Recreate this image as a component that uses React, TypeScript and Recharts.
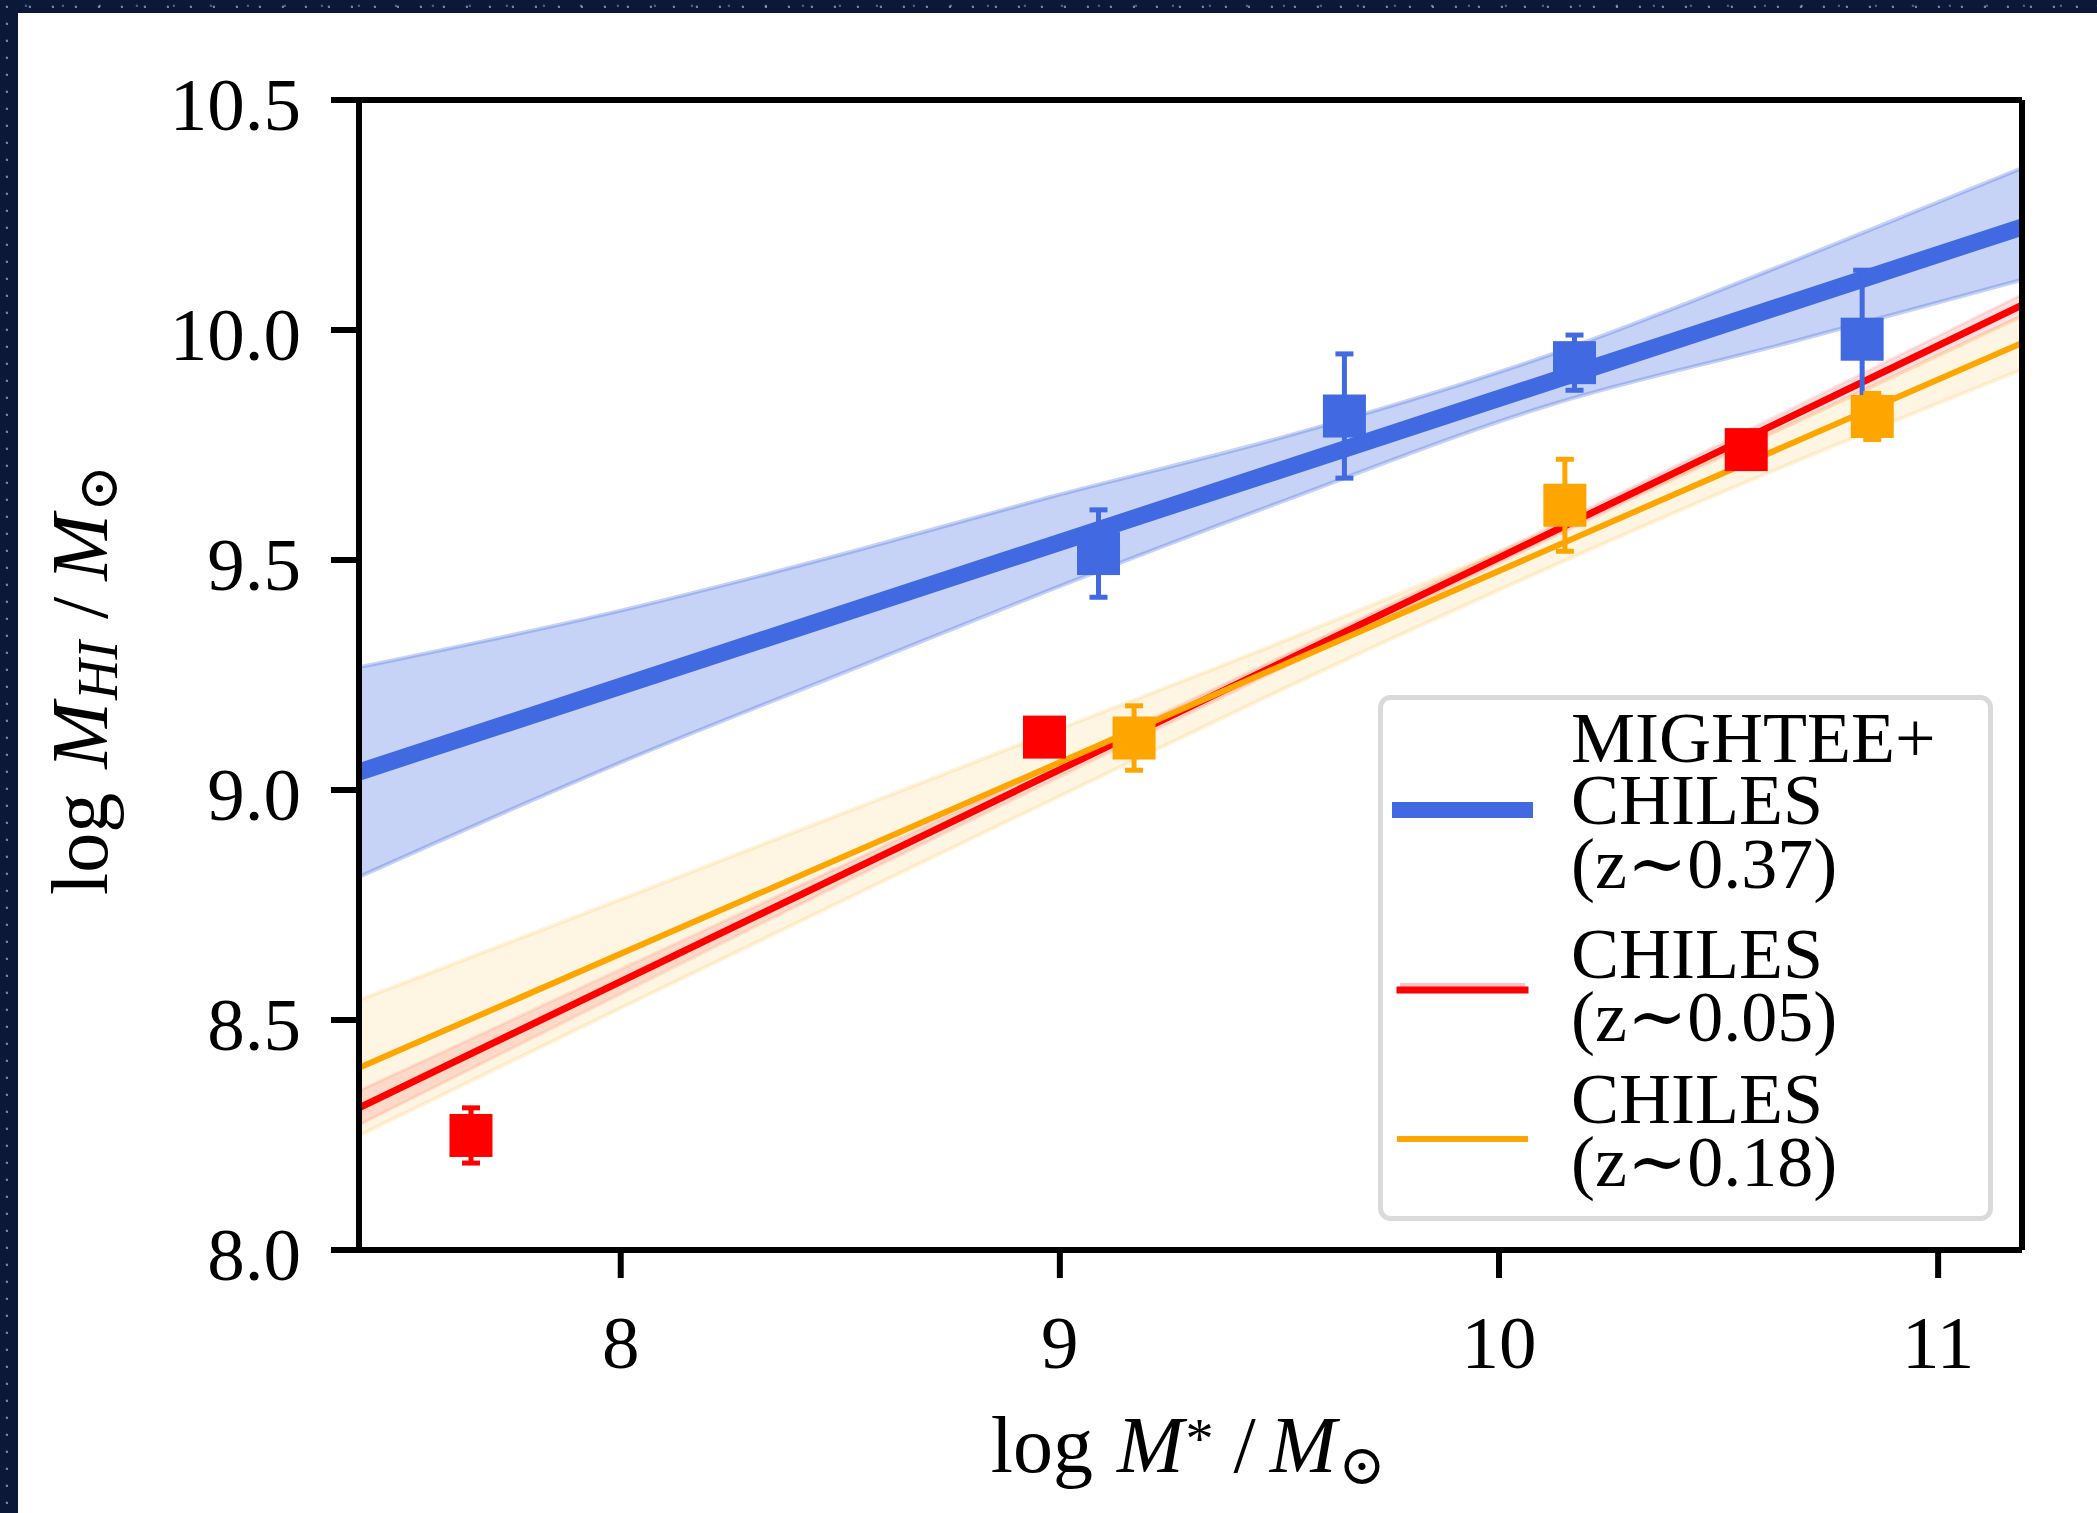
import React from 'react';
import { ComposedChart, Line, Area, Scatter, XAxis, YAxis, ErrorBar, Legend, Label, ReferenceLine } from 'recharts';

// ---- axes ----
const X_DOMAIN = [7.404, 11.191];
const Y_DOMAIN = [8, 10.5];
const X_TICKS = [8, 9, 10, 11];
const Y_TICKS = [8.0, 8.5, 9.0, 9.5, 10.0, 10.5];

// ---- MIGHTEE+CHILES (z~0.37) ----
const blueFitX = [7.404, 11.191];
const blueFitY = [9.039, 10.224];
const blueBandX = [7.404, 8.0, 8.534, 8.978, 9.5, 10.116, 10.67, 11.191];
const blueBandLo = [8.811, 9.06, 9.265, 9.435, 9.625, 9.837, 9.975, 10.109];
const blueBandHi = [9.267, 9.39, 9.52, 9.637, 9.765, 9.946, 10.15, 10.352];
const blueX = [9.088, 9.648, 10.172, 10.827];
const blueY = [9.514, 9.813, 9.929, 9.98];
const blueErr = [0.095, 0.135, 0.06, 0.15];

// ---- CHILES (z~0.05) ----
const redFitX = [7.404, 11.191];
const redFitY = [8.309, 10.054];
const redBandX = [7.404, 8.5, 9.5, 10.3, 11.191];
const redBandLo = [8.272, 8.795, 9.262, 9.631, 10.031];
const redBandHi = [8.346, 8.833, 9.288, 9.657, 10.077];
const redX = [7.659, 8.965, 10.563];
const redY = [8.249, 9.115, 9.74];
const redErr = [0.06, 0.03, 0.03];

// ---- CHILES (z~0.18) ----
const orangeFitX = [7.404, 11.191];
const orangeFitY = [8.396, 9.972];
const orangeBandX = [7.404, 8.0, 8.5, 9.0, 9.5, 10.0, 10.5, 11.191];
const orangeBandLo = [8.249, 8.526, 8.757, 8.987, 9.216, 9.435, 9.644, 9.914];
const orangeBandHi = [8.543, 8.762, 8.947, 9.133, 9.32, 9.517, 9.724, 10.03];
const orangeX = [9.169, 10.15, 10.85];
const orangeY = [9.113, 9.619, 9.812];
const orangeErr = [0.07, 0.1, 0.05];

// ---- legend ----
const legendLabels = [
  ['MIGHTEE+', 'CHILES', '(z\u223C0.37)'],
  ['CHILES', '(z\u223C0.05)'],
  ['CHILES', '(z\u223C0.18)'],
];

const BLUE = '#4169E1';
const RED = '#FF0000';
const ORANGE = '#FFA500';
const FONT = '"Liberation Serif", "DejaVu Serif", serif';
const AXIS_W = 6;

const fit = (xs: number[], ys: number[]) => xs.map((x, i) => ({ x, y: ys[i] }));
const band = (xs: number[], lo: number[], hi: number[]) => xs.map((x, i) => ({ x, band: [lo[i], hi[i]] }));
const pts = (xs: number[], ys: number[], es: number[]) => xs.map((x, i) => ({ x, y: ys[i], err: es[i] }));

const blueFit = fit(blueFitX, blueFitY);
const redFit = fit(redFitX, redFitY);
const orangeFit = fit(orangeFitX, orangeFitY);
const blueBand = band(blueBandX, blueBandLo, blueBandHi);
const redBand = band(redBandX, redBandLo, redBandHi);
const orangeBand = band(orangeBandX, orangeBandLo, orangeBandHi);
const bluePts = pts(blueX, blueY, blueErr);
const redPts = pts(redX, redY, redErr);
const orangePts = pts(orangeX, orangeY, orangeErr);

const square = (color: string) => (props: any) => {
  const { cx, cy } = props;
  if (cx == null || cy == null) return <g />;
  return <rect x={cx - 21.5} y={cy - 21.5} width={43} height={43} fill={color} />;
};

const YTick = (props: any) => {
  const { x, y, payload } = props;
  return (
    <text x={x} y={y} dy={30} textAnchor="end" fontFamily={FONT} fontSize={75} fill="#000">
      {Number(payload.value).toFixed(1)}
    </text>
  );
};

const XTick = (props: any) => {
  const { x, y, payload } = props;
  return (
    <text x={x} y={y} dy={90} textAnchor="middle" fontFamily={FONT} fontSize={75} fill="#000">
      {String(payload.value)}
    </text>
  );
};

const YLabel = () => (
  <text
    x={107}
    y={680}
    transform="rotate(-90 107 680)"
    textAnchor="middle"
    fontFamily={FONT}
    fontSize={80}
    fill="#000"
  >
    <tspan>log</tspan>
    <tspan dx={24} fontStyle="italic">M</tspan>
    <tspan dy={10} dx={2} fontSize={56} fontStyle="italic">HI</tspan>
    <tspan dy={-10} dx={22}>/</tspan>
    <tspan dx={16} fontStyle="italic">M</tspan>
    <tspan dy={10} dx={2} fontSize={56}>{'\u2299'}</tspan>
  </text>
);

const XLabel = () => (
  <text x={1188} y={1472} textAnchor="middle" fontFamily={FONT} fontSize={80} fill="#000">
    <tspan>log</tspan>
    <tspan dx={24} fontStyle="italic">M</tspan>
    <tspan dy={-14} dx={2} fontSize={56}>*</tspan>
    <tspan dy={14} dx={20}>/</tspan>
    <tspan dx={14} fontStyle="italic">M</tspan>
    <tspan dy={12} dx={2} fontSize={56}>{'\u2299'}</tspan>
  </text>
);

const LegendBox = () => {
  const handles = [
    { color: BLUE, width: 16, y: 115 },
    { color: RED, width: 7, y: 295 },
    { color: ORANGE, width: 6, y: 444 },
  ];
  const baselines = [[67, 129, 193], [283, 346], [428, 491]];
  return (
    <svg width={615} height={526} style={{ display: 'block' }}>
      <rect x={2.5} y={2.5} width={610} height={521} rx={10} ry={10} fill="#fff" stroke="#dadada" strokeWidth={5} />
      {handles.map((h, i) => (
        <g key={i}>
          {i === 1 && <line x1={22} x2={147} y1={h.y - 4} y2={h.y - 4} stroke="#ffc2c2" strokeWidth={6} />}
          <line x1={22} x2={147} y1={h.y} y2={h.y} stroke={h.color} strokeWidth={h.width} strokeLinecap="square" />
        </g>
      ))}
      {legendLabels.map((lines, i) =>
        lines.map((t, j) => (
          <text key={i + '-' + j} x={193} y={baselines[i][j]} fontFamily={FONT} fontSize={72} fill="#000">
            {t}
          </text>
        ))
      )}
    </svg>
  );
};

export default function App() {
  return (
    <div
      style={{
        position: 'absolute',
        left: 0,
        top: 0,
        width: 2097,
        height: 1513,
        overflow: 'hidden',
        background:
          'radial-gradient(circle at 30% 40%, rgba(200,215,255,0.55) 0 1px, transparent 1.6px) 0 0/23px 17px, radial-gradient(circle at 70% 20%, rgba(200,215,255,0.35) 0 1px, transparent 1.6px) 0 0/37px 29px, #0b1838',
      }}
    >
      <div style={{ position: 'absolute', left: 18, top: 13, right: 0, bottom: 0, background: '#ffffff' }} />
      <div style={{ position: 'absolute', left: 0, top: 0 }}>
        <ComposedChart width={2097} height={1513} margin={{ top: 100, right: 75, bottom: 113, left: 159 }}>
          <XAxis
            dataKey="x"
            type="number"
            domain={X_DOMAIN}
            ticks={X_TICKS}
            allowDataOverflow
            height={150}
            tickSize={28}
            tickMargin={0}
            tick={<XTick />}
            axisLine={{ stroke: '#000', strokeWidth: AXIS_W }}
            tickLine={{ stroke: '#000', strokeWidth: AXIS_W }}
          >
            <Label content={<XLabel />} />
          </XAxis>
          <YAxis
            type="number"
            domain={Y_DOMAIN}
            ticks={Y_TICKS}
            allowDataOverflow
            width={200}
            tickSize={28}
            tickMargin={30}
            tick={<YTick />}
            axisLine={{ stroke: '#000', strokeWidth: AXIS_W }}
            tickLine={{ stroke: '#000', strokeWidth: AXIS_W }}
          >
            <Label content={<YLabel />} />
          </YAxis>

          <Area
            data={blueBand}
            dataKey="band"
            type="monotone"
            fill={BLUE}
            fillOpacity={0.3}
            stroke={BLUE}
            strokeOpacity={0.3}
            strokeWidth={4}
            dot={false}
            activeDot={false}
            isAnimationActive={false}
          />
          <Line data={blueFit} dataKey="y" type="linear" stroke={BLUE} strokeWidth={17} dot={false} activeDot={false} isAnimationActive={false} />

          <Area
            data={redBand}
            dataKey="band"
            type="monotone"
            fill={RED}
            fillOpacity={0.12}
            stroke={RED}
            strokeOpacity={0.1}
            strokeWidth={3}
            dot={false}
            activeDot={false}
            isAnimationActive={false}
          />
          <Line data={redFit} dataKey="y" type="linear" stroke={RED} strokeWidth={7} dot={false} activeDot={false} isAnimationActive={false} />

          <Area
            data={orangeBand}
            dataKey="band"
            type="monotone"
            fill={ORANGE}
            fillOpacity={0.11}
            stroke={ORANGE}
            strokeOpacity={0.15}
            strokeWidth={4}
            dot={false}
            activeDot={false}
            isAnimationActive={false}
          />
          <Line data={orangeFit} dataKey="y" type="linear" stroke={ORANGE} strokeWidth={6} dot={false} activeDot={false} isAnimationActive={false} />

          <Scatter data={bluePts} dataKey="y" fill={BLUE} shape={square(BLUE)} isAnimationActive={false}>
            <ErrorBar dataKey="err" direction="y" width={9} strokeWidth={5} stroke={BLUE} />
          </Scatter>
          <Scatter data={redPts} dataKey="y" fill={RED} shape={square(RED)} isAnimationActive={false}>
            <ErrorBar dataKey="err" direction="y" width={9} strokeWidth={5} stroke={RED} />
          </Scatter>
          <Scatter data={orangePts} dataKey="y" fill={ORANGE} shape={square(ORANGE)} isAnimationActive={false}>
            <ErrorBar dataKey="err" direction="y" width={9} strokeWidth={5} stroke={ORANGE} />
          </Scatter>

          <ReferenceLine y={Y_DOMAIN[1]} stroke="#000" strokeWidth={AXIS_W} ifOverflow="visible" />
          <ReferenceLine x={X_DOMAIN[1]} stroke="#000" strokeWidth={AXIS_W} ifOverflow="visible" />

          <Legend
            layout="horizontal"
            verticalAlign="middle"
            align="center"
            content={() => <LegendBox />}
            wrapperStyle={{ position: 'absolute', left: 1378, top: 695, width: 615, height: 526, margin: 0, padding: 0 }}
          />
        </ComposedChart>
      </div>
    </div>
  );
}
